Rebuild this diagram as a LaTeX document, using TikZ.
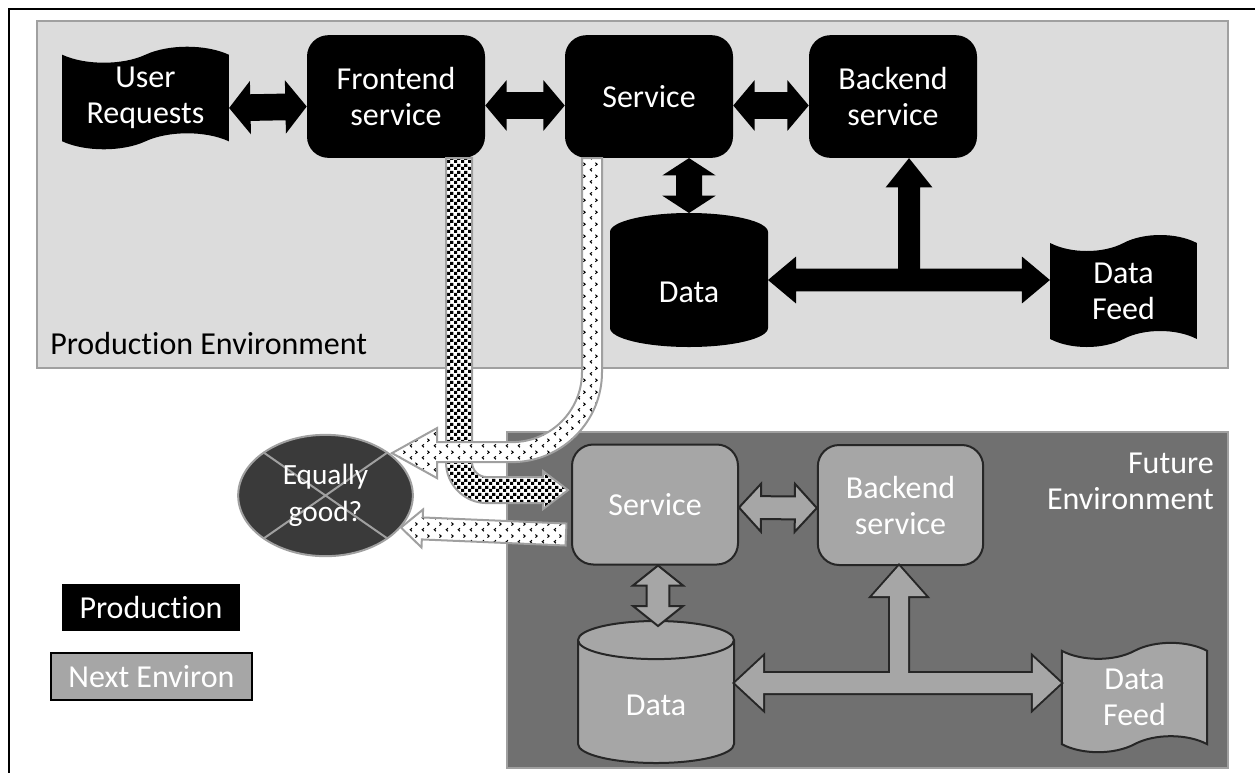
\documentclass[tikz,border=0pt]{standalone}
\usepackage{fontspec}
\setmainfont[Ligatures=NoCommon]{Carlito}
\usetikzlibrary{shapes.geometric, shapes.symbols, calc, patterns.meta}

\definecolor{prodbg}{HTML}{DCDCDC}
\definecolor{futbg}{HTML}{707070}
\definecolor{envline}{HTML}{A0A0A0}
\definecolor{nextgray}{HTML}{A6A6A6}
\definecolor{nextline}{HTML}{262626}
\definecolor{eqfill}{HTML}{3A3A3A}

\tikzdeclarepattern{
  name=blockdots,
  type=uncolored,
  bounding box={(0pt,0pt) and (5pt,5pt)},
  tile size={(5pt,5pt)},
  code={
    \fill (0pt,0pt) rectangle (2.4pt,2.4pt);
    \fill (2.5pt,2.5pt) rectangle (4.9pt,4.9pt);
  }
}
\tikzdeclarepattern{
  name=chevrons,
  type=uncolored,
  bounding box={(0pt,0pt) and (9pt,9pt)},
  tile size={(9pt,9pt)},
  code={
    \draw[line width=0.8pt] (3.2pt,3.8pt) -- (1.8pt,2.6pt) -- (3.2pt,1.4pt);
    \draw[line width=0.8pt] (6pt,8.3pt) -- (7.4pt,7.1pt) -- (6pt,5.9pt);
  }
}

% block arrow, both ends: style, end, end, shaft half, head half, head length
\newcommand{\fatarrow}[6]{%
  \coordinate (fa1) at ($#2!#6!#3$);
  \coordinate (fa2) at ($#3!#6!#2$);
  \path[#1] #2 -- ($(fa1)!#5!90:#3$) -- ($(fa1)!#4!90:#3$)
    -- ($(fa2)!#4!-90:#2$) -- ($(fa2)!#5!-90:#2$) -- #3
    -- ($(fa2)!#5!90:#2$) -- ($(fa2)!#4!90:#2$)
    -- ($(fa1)!#4!-90:#3$) -- ($(fa1)!#5!-90:#3$) -- cycle;
}
% block arrow, one end: style, tail, tip, shaft half, head half, head length
\newcommand{\fatsingle}[6]{%
  \coordinate (fa1) at ($#3!#6!#2$);
  \path[#1] ($#2!#4!90:#3$) -- ($(fa1)!#4!-90:#2$) -- ($(fa1)!#5!-90:#2$) -- #3
    -- ($(fa1)!#5!90:#2$) -- ($(fa1)!#4!90:#2$) -- ($#2!#4!-90:#3$) -- cycle;
}

\begin{document}
\begin{tikzpicture}[
		x=0.75pt, y=-0.75pt,
		every node/.style={font=\fontsize{24}{27}\selectfont},
		prod/.style={rectangle, rounded corners=16pt, fill=black, text=white, align=center, minimum height=92pt},
		fut/.style={rectangle, rounded corners=16pt, fill=nextgray, draw=nextline, line width=1.5pt, text=white, align=center, minimum height=90pt},
		ptape/.style={tape, fill=black, text=white, align=center, tape bend top=in and out, tape bend bottom=in and out, tape bend height=12pt},
		ftape/.style={ptape, fill=nextgray, draw=nextline, line width=1.5pt},
		pdrum/.style={cylinder, shape border rotate=90, aspect=0.55, anchor=shape center, fill=black, text=white},
		fdrum/.style={pdrum, fill=nextgray, draw=nextline, line width=1.5pt},
		parrow/.style={fill=black},
		farrow/.style={fill=nextgray, draw=nextline, line width=1.5pt},
		fedge/.style={draw=nextline, line width=3pt},
		ffill/.style={fill=nextgray},
		dotband/.style={draw=envline, line width=1.5pt, preaction={fill=white}, pattern=blockdots, pattern color=black},
		chevband/.style={draw=envline, line width=1.5pt, preaction={fill=white}, pattern=chevrons, pattern color=black}
	]
	\useasboundingbox (0,0) rectangle (1255,772);
	
	% environments
	\draw[fill=prodbg, draw=envline, line width=1.5pt] (37,21) rectangle (1228,368);
	\draw[fill=futbg, draw=envline, line width=1.5pt] (507,432) rectangle (1228,768);
	\draw[line width=1.5pt] (9,790) -- (9,9) -- (1270,9);
	
	\node[anchor=west, inner sep=0pt] (penvlabel) at (50,343) {Production Environment};
	\node[anchor=east, align=right, text=white, inner sep=0pt] (fenvlabel) at (1214,481) {Future\\Environment};
	
	% production
	\node[ptape, minimum width=125pt, minimum height=75pt] (user) at (145.5,98) {User\\Requests};
	\node[prod, minimum width=133.5pt] (pfront) at (396,96.5) {Frontend\\service};
	\node[prod, minimum width=126pt] (psvc) at (649,96.5) {Service};
	\node[prod, minimum width=126pt] (pback) at (893,96.5) {Backend\\service};
	\node[pdrum, minimum width=118.5pt, minimum height=100.5pt] (pdata) at (689,280) {Data};
	\node[ptape, minimum width=110pt, minimum height=84pt] (pfeed) at (1123.5,291) {Data\\Feed};
	
	\coordinate (a1) at ($(user.east)+(0,10)$);
	\coordinate (a2) at ($(pfront.west)+(0,10)$);
	\coordinate (a3) at ($(pfront.east)+(0,9)$);
	\coordinate (a4) at ($(psvc.west)+(0,9)$);
	\coordinate (a5) at ($(psvc.east)+(0,9)$);
	\coordinate (a6) at ($(pback.west)+(0,9)$);
	\fatarrow{parrow}{(a1)}{(a2)}{10pt}{20pt}{16pt}
	\fatarrow{parrow}{(a3)}{(a4)}{10pt}{19pt}{16pt}
	\fatarrow{parrow}{(a5)}{(a6)}{10pt}{19pt}{16pt}
	
	\coordinate (a7) at ($(pdata.shape center)+(0,-67)$);
	\coordinate (a8) at (a7 |- psvc.south);
	\fatarrow{parrow}{(a8)}{(a7)}{9.75pt}{20pt}{13pt}
	\coordinate (a9) at ($(pdata.shape center)+(79,0)$);
	\coordinate (a10) at (pfeed.west |- a9);
	\fatarrow{parrow}{(a9)}{(a10)}{8.6pt}{17.6pt}{21pt}
	\coordinate (a11) at ($(pback.south)+(16,0)$);
	\coordinate (a12) at (a11 |- a9);
	\fatsingle{parrow}{(a12)}{(a11)}{8.25pt}{17.6pt}{22pt}
	
	% future
	\node[fut, minimum width=124.5pt] (fsvc) at (655,504.5) {Service};
	\node[fut, minimum width=124pt] (fback) at (900.5,505) {Backend\\service};
	\node[fdrum, minimum width=117pt, minimum height=106.5pt] (fdata) at (656,692) {Data};
	\node[ftape, minimum width=109pt, minimum height=82pt] (ffeed) at (1134.5,697.5) {Data\\Feed};
	
	\coordinate (b1) at ($(fsvc.east)+(0,3)$);
	\coordinate (b2) at ($(fback.west)+(0,3)$);
	\fatarrow{farrow}{(b1)}{(b2)}{8.6pt}{18pt}{16.5pt}
	\coordinate (b3) at ($(fdata.shape center)+(2,-66)$);
	\coordinate (b4) at (b3 |- fsvc.south);
	\fatarrow{farrow}{(b4)}{(b3)}{8.6pt}{18.75pt}{15pt}
	\coordinate (b5) at ($(fdata.shape center)+(79,-9)$);
	\coordinate (b6) at (ffeed.west |- b5);
	\coordinate (b7) at ($(fback.south)+(-1.5,0)$);
	\coordinate (b8) at (b7 |- b5);
	\fatarrow{fedge}{(b5)}{(b6)}{7.5pt}{19.5pt}{21pt}
	\fatsingle{fedge}{(b8)}{(b7)}{6.75pt}{20pt}{22.5pt}
	\fatarrow{ffill}{(b5)}{(b6)}{7.5pt}{19.5pt}{21pt}
	\fatsingle{ffill}{(b8)}{(b7)}{6.75pt}{20pt}{22.5pt}
	
	% comparison
	\node[ellipse, fill=eqfill, draw=envline, line width=1.5pt, minimum width=131pt, minimum height=91pt,
		text=white, align=center, font=\fontsize{22}{27.5}\selectfont,
		path picture={\draw[envline, line width=1.5pt]
			(path picture bounding box.north east) -- (path picture bounding box.south west)
			(path picture bounding box.north west) -- (path picture bounding box.south east);}]
		(eq) at (325.5,495.5) {Equally\\good?};
	
	\coordinate (bb) at ($(pfront.south)+(50,0)$);
	\draw[dotband] (bb) -- ++(0,304) arc(180:90:41) -- ++(56,0) -- ++(0,6) -- ++(25,-19)
		-- ++(-25,-19) -- ++(0,6) -- ++(-56,0) arc(90:180:15) -- ++(0,-304) -- cycle;
	\coordinate (wb) at ($(psvc.south)+(-67,0)$);
	\draw[chevband] (wb) -- ++(0,214) arc(0:90:70) -- ++(-75,0) -- ++(0,-14) -- ++(-45,25)
		-- ++(45,25) -- ++(0,-16) -- ++(75,0) arc(90:0:90) -- ++(0,-214) -- cycle;
	\coordinate (lw1) at ($(fsvc.west)+(-5,30)$);
	\fatsingle{chevband}{(lw1)}{(eq.-23)}{8.25pt}{14.25pt}{16pt}
	
	% legend
	\node[fill=black, text=white, minimum width=133.5pt, minimum height=35pt] (lprod) at (151,607.5) {Production};
	\node[fill=nextgray, draw=black, line width=1.5pt, text=white, minimum width=151pt, minimum height=35pt] (lnext) at (151.5,676.5) {Next Environ};
\end{tikzpicture}
\end{document}
